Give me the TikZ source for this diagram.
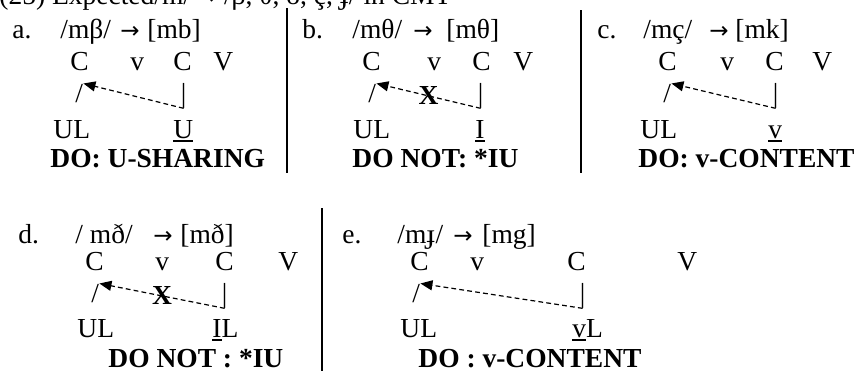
\documentclass[tikz,border=0pt]{standalone}
\usepackage{fontspec}
\setmainfont{Liberation Serif}
\newfontfamily\arrowfont{DejaVu Sans}
\usetikzlibrary{arrows.meta}
\newcommand\undr[1]{\setbox0\hbox{#1}\rlap{\rule[-1.8pt]{\wd0}{0.9pt}}\box0}
\newcommand\tto{{\arrowfont\fontsize{11.5}{12}\selectfont →}}

\begin{document}
\begin{tikzpicture}[x=0.5pt,y=-0.5pt,
  font=\fontsize{13.75}{16}\selectfont,
  txt/.style={inner sep=0pt,anchor=base west},
  bold/.style={txt,font=\fontsize{13.75}{16}\selectfont\bfseries},
  blocked/.style={inner sep=0pt,font=\fontsize{13.75}{16}\selectfont\bfseries},
  share/.style={dash pattern=on 2.4pt off 1.6pt,line width=0.6pt,-{Triangle[length=6pt,width=5pt]}},
  sep/.style={line width=1pt}]
\useasboundingbox (0,0) rectangle (859,371);
\clip (0,0) rectangle (859,371);
\node[txt] (title) at (-1,4) {(25) Expected/m/ \tto{} /β, θ, ð, ç, ɟ/ in CMT};
% a.
\node[txt] (la) at (12,38) {a.};
\node[txt] (fa) at (60,38) {/mβ/};
\node[txt] (ta) at (120,38) {\tto};
\node[txt] (oa) at (147,38) {[mb]};
\node[txt] (c1a) at (70,70) {C};
\node[txt] (v1a) at (130,70) {v};
\node[txt] (c2a) at (173,70) {C};
\node[txt] (v2a) at (213,70) {V};
\node[txt] (sla) at (75,102) {/};
\node[txt] (bara) at (180.5,102) {|};
\node[txt] (ula) at (53,138) {UL};
\node[txt] (ua) at (173,138) {\undr{U}};
\node[bold] (doa) at (50,167) {DO: U-SHARING};
\draw[share] (bara.south) -- (sla.north east);
\draw[sep] (287,8) -- (287,173);
% b.
\node[txt] (lb) at (302,38) {b.};
\node[txt] (fb) at (352,38) {/mθ/};
\node[txt] (tb) at (413,38) {\tto};
\node[txt] (ob) at (446,38) {[mθ]};
\node[txt] (c1b) at (362,70) {C};
\node[txt] (v1b) at (427,70) {v};
\node[txt] (c2b) at (472,70) {C};
\node[txt] (v2b) at (513,70) {V};
\node[txt] (slb) at (368,102) {/};
\node[txt] (barb) at (477.5,102) {|};
\node[txt] (ulb) at (353,138) {UL};
\node[txt] (ub) at (475,138) {\undr{I}};
\node[bold] (dob) at (352,167) {DO NOT: *IU};
\draw[share] (barb.south) -- (slb.north east) node[blocked,pos=.5] (xb) {X};
\draw[sep] (581,10) -- (581,173);
% c.
\node[txt] (lc) at (597,38) {c.};
\node[txt] (fc) at (643,38) {/mç/};
\node[txt] (tc) at (709,38) {\tto};
\node[txt] (oc) at (735,38) {[mk]};
\node[txt] (c1c) at (658,70) {C};
\node[txt] (v1c) at (720,70) {v};
\node[txt] (c2c) at (765,70) {C};
\node[txt] (v2c) at (812,70) {V};
\node[txt] (slc) at (663,102) {/};
\node[txt] (barc) at (772.5,102) {|};
\node[txt] (ulc) at (640,138) {UL};
\node[txt] (uc) at (768,138) {\undr{v}};
\node[bold] (doc) at (638,167) {DO: v-CONTENT};
\draw[share] (barc.south) -- (slc.north east);
% d.
\node[txt] (ld) at (18,243) {d.};
\node[txt] (fd) at (75,243) {/ mð/};
\node[txt] (td) at (153,243) {\tto};
\node[txt] (od) at (180,243) {[mð]};
\node[txt] (c1d) at (85,270) {C};
\node[txt] (v1d) at (155,270) {v};
\node[txt] (c2d) at (215,270) {C};
\node[txt] (v2d) at (278,270) {V};
\node[txt] (sld) at (91,302) {/};
\node[txt] (bard) at (221.5,302) {|};
\node[txt] (uld) at (77,337) {UL};
\node[txt] (ud) at (212,337) {\undr{I}L};
\node[bold] (dod) at (108,367) {DO NOT : *IU};
\draw[share] (bard.south) -- (sld.north east) node[blocked,pos=.5] (xd) {X};
\draw[sep] (322,208) -- (322,371);
% e.
\node[txt] (le) at (342,243) {e.};
\node[txt] (fe) at (397,243) {/mɟ/};
\node[txt] (te) at (453,243) {\tto};
\node[txt] (oe) at (482,243) {[mg]};
\node[txt] (c1e) at (410,270) {C};
\node[txt] (v1e) at (470,270) {v};
\node[txt] (c2e) at (567,270) {C};
\node[txt] (v2e) at (677,270) {V};
\node[txt] (sle) at (412,302) {/};
\node[txt] (bare) at (579.5,302) {|};
\node[txt] (ule) at (400,337) {UL};
\node[txt] (ue) at (572,337) {\undr{v}L};
\node[bold] (doe) at (418,367) {DO : v-CONTENT};
\draw[share] (bare.south) -- (sle.north east);
\end{tikzpicture}
\end{document}
